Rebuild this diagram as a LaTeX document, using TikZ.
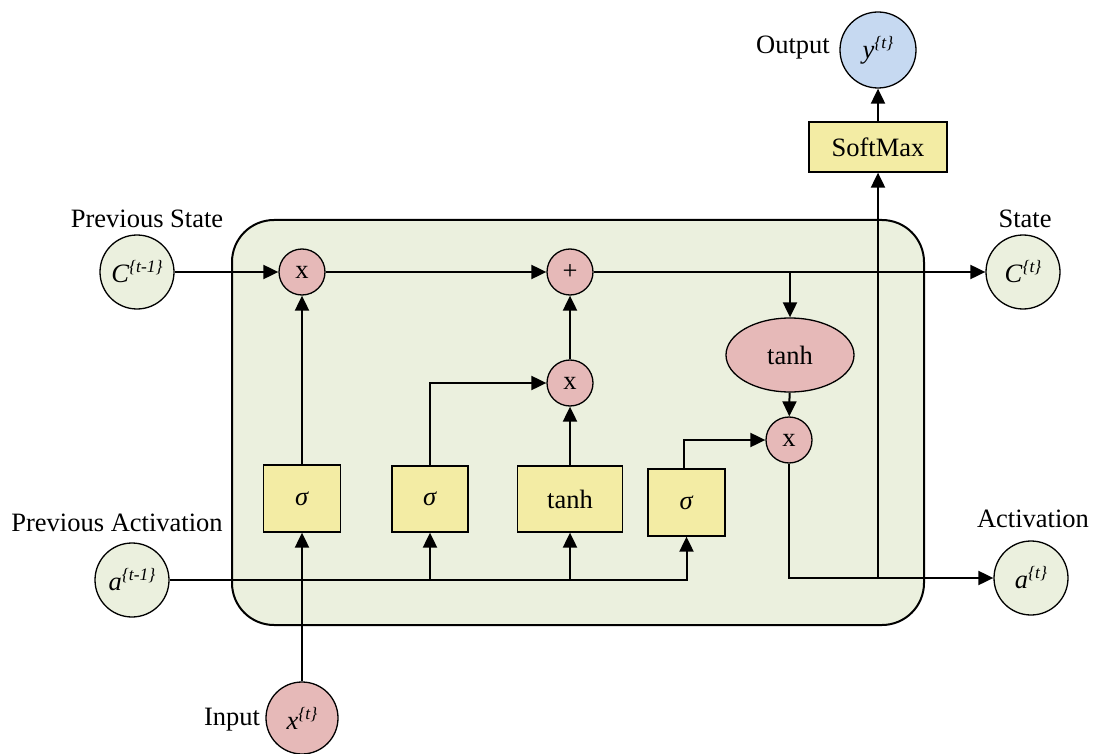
\documentclass[tikz,border=0pt]{standalone}
\usepackage{fontspec}
\setmainfont{Liberation Serif}
\usetikzlibrary{arrows.meta,shapes.geometric}
\definecolor{paleG}{HTML}{EBF0DE}
\definecolor{gateY}{HTML}{F3ECA4}
\definecolor{opP}{HTML}{E6B9B8}
\definecolor{outB}{HTML}{C6D9F1}
\newcommand{\vsup}[1]{\raisebox{10pt}{\fontsize{17.5}{19}\selectfont\itshape\{#1\}}}
\begin{document}
\begin{tikzpicture}[x=1pt,y=-1pt,
  every node/.style={font=\fontsize{26.5}{30}\selectfont},
  bigc/.style={circle,draw,line width=1.3pt,fill=paleG,minimum size=74pt,inner sep=0pt},
  opc/.style={circle,draw,line width=1.3pt,fill=opP,minimum size=46pt,inner sep=0pt},
  gatebox/.style={rectangle,draw,line width=1.3pt,fill=gateY,inner sep=0pt},
  arr/.style={-{Triangle[length=15pt,width=14pt]},line width=2pt},
  wire/.style={line width=2pt}]
\useasboundingbox (0,0) rectangle (1095,754);

% cell body
\draw[line width=2pt,fill=paleG,rounded corners=42pt] (232,220) rectangle (924,625);

% external states
\node[bigc] (cprev) at (137,272) {\textit{C}\vsup{t-1}};
\node[bigc] (aprev) at (132,580) {\textit{a}\vsup{t-1}};
\node[bigc] (ct) at (1023,272) {\textit{C}\vsup{t}};
\node[bigc] (at) at (1031,578) {\textit{a}\vsup{t}};
\node[bigc,fill=outB,minimum size=76pt] (yout) at (878,50) {\textit{y}\vsup{t}};
\node[bigc,fill=opP,minimum size=72pt] (xin) at (302,718) {\textit{x}\vsup{t}};

% labels
\node at (147,219) {Previous State};
\node at (1025,219) {State};
\node at (117,523) {Previous Activation};
\node at (1033,519) {Activation};
\node at (793,48) {Output};
\node at (232,720) {Input};

% pointwise operations
\node[opc] (m1) at (302,272) {x};
\node[opc] (add) at (570,272) {+};
\node[opc] (m2) at (570,383) {x};
\node[ellipse,draw,line width=1.3pt,fill=opP,minimum width=128pt,minimum height=74pt,inner sep=0pt] (th) at (790,355) {tanh};
\node[opc] (m3) at (789,440) {x};

% gates
\node[gatebox,minimum width=77pt,minimum height=67pt] (s1) at (302,498.5) {\textit{σ}};
\node[gatebox,minimum width=76pt,minimum height=66pt] (s2) at (430,499) {\textit{σ}};
\node[gatebox,minimum width=105pt,minimum height=66pt] (tg) at (570,499) {tanh};
\node[gatebox,minimum width=77pt,minimum height=67pt] (s3) at (686.5,502.5) {\textit{σ}};
\node[gatebox,minimum width=138pt,minimum height=50pt] (sm) at (878,147) {SoftMax};

% cell state line
\draw[arr] (cprev) -- (m1);
\draw[arr] (m1) -- (add);
\draw[arr] (add) -- (ct);
\coordinate (br) at (790,272);
\draw[arr] (br) -- (th);
\draw[arr] (th) -- (m3);

% gate connections
\draw[arr] (s1) -- (m1);
\draw[arr] (s2.north) |- (m2.west);
\draw[arr] (tg) -- (m2);
\draw[arr] (m2) -- (add);
\draw[arr] ([xshift=-3pt]s3.north) |- (m3.west);

% inputs
\draw[arr] (xin) -- (s1);
\draw[arr] (aprev.east) -| (s3.south);
\draw[arr] (s2.south |- aprev) -- (s2.south);
\draw[arr] (tg.south |- aprev) -- (tg.south);

% hidden output
\draw[arr] (m3.south) |- (at.west);
\coordinate (jo) at (878,578);
\draw[arr] (jo) -- (sm.south);
\draw[arr] (sm) -- (yout);
\end{tikzpicture}
\end{document}
